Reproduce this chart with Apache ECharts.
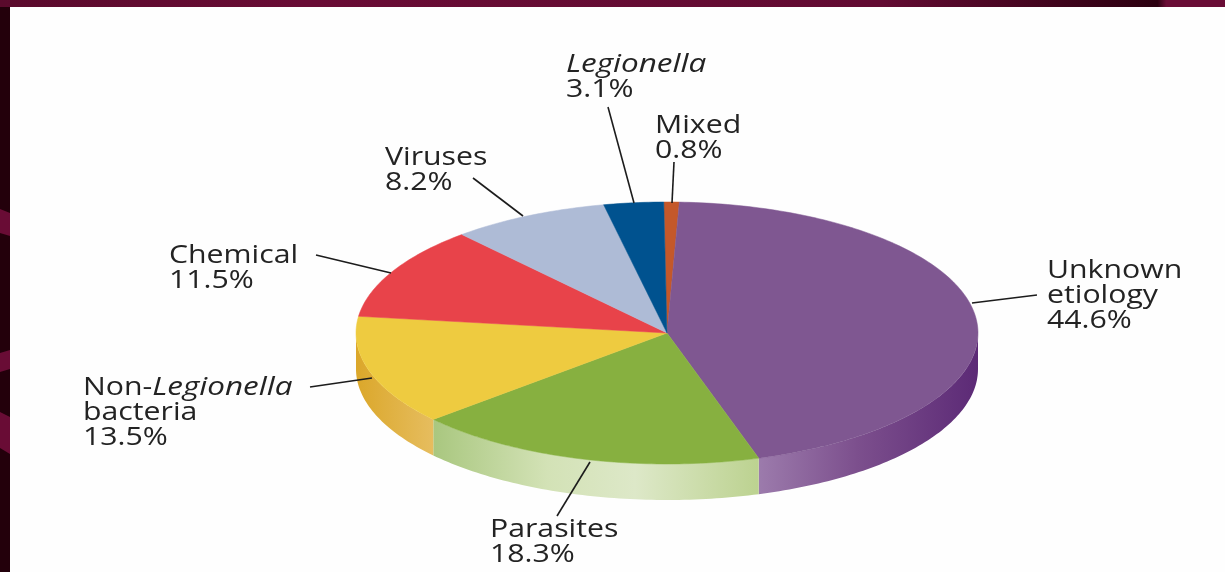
<!DOCTYPE html>
<html>
<head>
<meta charset="utf-8">
<style>html,body{margin:0;padding:0;background:#fff}#c{width:1225px;height:572px}</style>
<script src="https://cdn.jsdelivr.net/npm/echarts@6/dist/echarts.min.js"></script>
</head>
<body>
<div id="c"></div>
<script>
// ---- data ----
const categories = ['Mixed', 'Unknown etiology', 'Parasites', 'Non-Legionella bacteria', 'Chemical', 'Viruses', 'Legionella'];
const shares = [0.8, 44.6, 18.3, 13.5, 11.5, 8.2, 3.1];

// ---- styles and annotation layout ----
const topColors = ['#c4582a', '#7f5791', '#87b040', '#eecb40', '#e8434a', '#aebbd6', '#00528f'];
const wallStops = [
  [[0, '#a8532a'], [1, '#a8532a']],
  [[0, '#9c7bac'], [0.45, '#7c4f8d'], [1, '#5c2a76']],
  [[0, '#a9c77f'], [0.35, '#d3e2b6'], [0.62, '#dde8c8'], [1, '#bcd290']],
  [[0, '#dba72a'], [1, '#e6bd5f']],
  [[0, '#c23a40'], [1, '#c23a40']],
  [[0, '#8f9bb5'], [1, '#8f9bb5']],
  [[0, '#00426f'], [1, '#00426f']]
];
const DEPTH = 36;
const START_ANGLE = -0.6;
// text lines, label left x, first-line centre y, leader from / to (px)
const labelLayout = [
  { lines: ['Mixed'], x: 655, y: 126, from: [674, 162], to: [672, 203] },
  { lines: ['Unknown', 'etiology'], x: 1047, y: 271, from: [1037, 295], to: [972, 303] },
  { lines: ['Parasites'], x: 490, y: 530, from: [590, 462], to: [557, 516] },
  { lines: ['Non-{i|Legionella}', 'bacteria'], x: 83, y: 388, from: [310, 387], to: [372, 378] },
  { lines: ['Chemical'], x: 169, y: 256, from: [316, 255], to: [391, 273] },
  { lines: ['Viruses'], x: 385, y: 158, from: [473, 178], to: [523, 216] },
  { lines: ['{i|Legionella}'], x: 566, y: 65, from: [608, 107], to: [634, 203] }
];
const TEXT = '#232323';
const FONT = '"Open Sans"';

const total = shares.reduce((a, b) => a + b, 0);
let run = 0;
const sliceData = categories.map((name, i) => {
  const start = run;
  run += shares[i];
  return { name, value: [start / total * 360 + START_ANGLE, run / total * 360 + START_ANGLE, shares[i], i] };
});

// point on the rim: the cartesian axes turn the circle into the tilted ellipse
function rim(api, deg) {
  const r = deg * Math.PI / 180;
  return api.coord([Math.sin(r), Math.cos(r)]);
}
function arc(api, a, b) {
  const pts = [];
  const n = Math.max(2, Math.ceil(Math.abs(b - a)));
  for (let k = 0; k <= n; k++) pts.push(rim(api, a + (b - a) * k / n));
  return pts;
}
function renderTop(params, api) {
  const a = api.value(0), b = api.value(1), i = api.value(3);
  const pts = [api.coord([0, 0])].concat(arc(api, a, b));
  return { type: 'polygon', shape: { points: pts }, style: { fill: topColors[i], stroke: topColors[i], lineWidth: 0.5 } };
}
function renderWall(params, api) {
  const a = Math.max(api.value(0), 90), b = Math.min(api.value(1), 270), i = api.value(3);
  if (b <= a) return null;
  const upper = arc(api, a, b);
  const lower = upper.map(p => [p[0], p[1] + DEPTH]).reverse();
  const stops = wallStops[i].map(s => ({ offset: s[0], color: s[1] }));
  return {
    type: 'polygon',
    shape: { points: upper.concat(lower) },
    style: { fill: new echarts.graphic.LinearGradient(0, 0, 1, 0, stops) }
  };
}
function renderLabel(params, api) {
  const i = api.value(3), l = labelLayout[i];
  const text = l.lines.concat([api.value(2).toFixed(1) + '%']).join('\n');
  return {
    type: 'group',
    children: [
      { type: 'line', shape: { x1: l.from[0], y1: l.from[1], x2: l.to[0], y2: l.to[1] },
        style: { stroke: '#1c1c1c', lineWidth: 1.6 } },
      { type: 'text', x: l.x, y: l.y - 12.5, scaleX: 1.21, originX: 0,
        style: { text, fill: TEXT, font: '400 25px ' + FONT, lineHeight: 25, textAlign: 'left', textVerticalAlign: 'top',
          rich: { i: { fontStyle: 'italic', fontFamily: 'Open Sans', fontSize: 26, lineHeight: 25, fill: TEXT } } } }
    ]
  };
}

const chart = echarts.init(document.getElementById('c'), null, { renderer: 'canvas' });
const maroon = '#690c35';
chart.setOption({
  animation: false,
  backgroundColor: '#fefefe',
  grid: { left: 356, right: 247, top: 202, bottom: 108 },
  xAxis: { type: 'value', min: -1, max: 1, show: false },
  yAxis: { type: 'value', min: -1, max: 1, show: false },
  tooltip: { show: false },
  series: [
    { type: 'custom', name: 'walls', clip: false, z: 1, data: sliceData, renderItem: renderWall },
    { type: 'custom', name: 'tops', clip: false, z: 2, data: sliceData, renderItem: renderTop },
    { type: 'custom', name: 'labels', clip: false, z: 3, data: sliceData, renderItem: renderLabel }
  ],
  graphic: [
    { type: 'rect', z: 10, shape: { x: 0, y: 0, width: 10, height: 572 }, style: { fill: '#23000b' } },
    { type: 'polygon', z: 11, shape: { points: [[0, 209], [10, 213], [10, 236], [0, 233]] }, style: { fill: maroon } },
    { type: 'polygon', z: 11, shape: { points: [[0, 353], [10, 350], [10, 369], [0, 372]] }, style: { fill: maroon } },
    { type: 'polygon', z: 11, shape: { points: [[0, 412], [10, 417], [10, 454], [0, 448]] }, style: { fill: maroon } },
    { type: 'rect', z: 12, shape: { x: 0, y: 0, width: 1225, height: 7 },
      style: { fill: new echarts.graphic.LinearGradient(0, 0, 1, 0, [
        { offset: 0, color: '#5a0a2c' }, { offset: 0.25, color: '#690c35' }, { offset: 0.72, color: '#620b32' },
        { offset: 0.945, color: '#2c0010' }, { offset: 0.952, color: '#690c35' }, { offset: 1, color: '#690c35' }
      ]) } }
  ]
});
</script>
</body>
</html>
